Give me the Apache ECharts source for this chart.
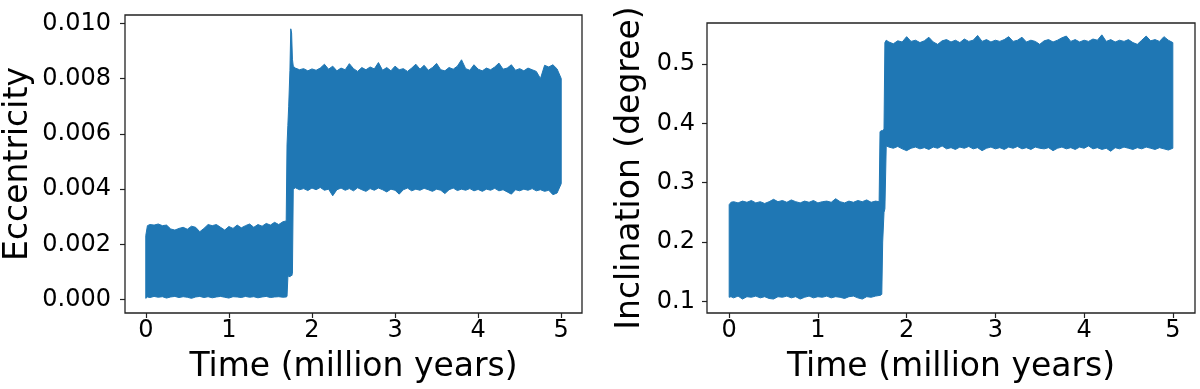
<!DOCTYPE html>
<html>
<head>
<meta charset="utf-8">
<script src="https://cdn.jsdelivr.net/npm/echarts@6/dist/echarts.min.js"></script>
<style>
  html, body { margin: 0; padding: 0; background: #fff; }
  #chart { width: 1200px; height: 389px; }
</style>
</head>
<body>
<div id="chart"></div>
<script>
// envelope of the oscillating curves (lower / upper edge of the blue band)
const timeEcc = [0, 0.02, 0.05, 0.1, 0.15, 0.2, 0.25, 0.3, 0.35, 0.4, 0.45, 0.5, 0.55, 0.6, 0.65, 0.7, 0.75, 0.8, 0.85, 0.9,
  0.95, 1.0, 1.05, 1.1, 1.15, 1.2, 1.25, 1.3, 1.35, 1.4, 1.45, 1.5, 1.55, 1.6, 1.65, 1.69, 1.7, 1.71, 1.72, 1.735,
  1.745, 1.755, 1.765, 1.775, 1.8, 1.85, 1.9, 1.95, 2.0, 2.05, 2.1, 2.15, 2.2, 2.25, 2.3, 2.35, 2.4, 2.45, 2.5, 2.55,
  2.6, 2.65, 2.7, 2.75, 2.8, 2.85, 2.9, 2.95, 3.0, 3.05, 3.1, 3.15, 3.2, 3.25, 3.3, 3.35, 3.4, 3.45, 3.5, 3.55,
  3.6, 3.65, 3.7, 3.75, 3.8, 3.85, 3.9, 3.95, 4.0, 4.05, 4.1, 4.15, 4.2, 4.25, 4.3, 4.35, 4.4, 4.45, 4.5, 4.55,
  4.6, 4.65, 4.7, 4.75, 4.8, 4.85, 4.9, 4.95, 5.0];
const eccHigh = [0.00232, 0.00268, 0.00272, 0.00270, 0.00274, 0.00268, 0.00270, 0.00256, 0.00252, 0.00258, 0.00262, 0.00255, 0.00266, 0.00262, 0.00246, 0.00258, 0.00272, 0.00268, 0.00272, 0.00262,
  0.00252, 0.00265, 0.00258, 0.00270, 0.00260, 0.00268, 0.00274, 0.00262, 0.00272, 0.00266, 0.00276, 0.00270, 0.00280, 0.00272, 0.00282, 0.00285, 0.00560, 0.00630, 0.00700, 0.00830,
  0.00980, 0.00965, 0.00870, 0.00845, 0.00838, 0.00832, 0.00836, 0.00828, 0.00835, 0.00830, 0.00838, 0.00852, 0.00834, 0.00845, 0.00828, 0.00838, 0.00832, 0.00854, 0.00836, 0.00826,
  0.00840, 0.00832, 0.00842, 0.00835, 0.00858, 0.00830, 0.00840, 0.00828, 0.00845, 0.00832, 0.00836, 0.00826, 0.00838, 0.00852, 0.00834, 0.00848, 0.00830, 0.00840, 0.00855, 0.00832,
  0.00828, 0.00840, 0.00834, 0.00845, 0.00868, 0.00836, 0.00830, 0.00850, 0.00834, 0.00828, 0.00838, 0.00832, 0.00842, 0.00856, 0.00834, 0.00838, 0.00850, 0.00830, 0.00836, 0.00828,
  0.00838, 0.00832, 0.00826, 0.00800, 0.00848, 0.00842, 0.00850, 0.00835, 0.00800];
const eccLow = [0.00005, 0.00010, 0.00008, 0.00012, 0.00009, 0.00011, 0.00006, 0.00010, 0.00012, 0.00008, 0.00011, 0.00009, 0.00005, 0.00010, 0.00012, 0.00008, 0.00011, 0.00007, 0.00010, 0.00012,
  0.00009, 0.00006, 0.00011, 0.00010, 0.00008, 0.00012, 0.00009, 0.00011, 0.00007, 0.00010, 0.00012, 0.00008, 0.00010, 0.00011, 0.00009, 0.00010, 0.00012, 0.00080, 0.00088, 0.00082,
  0.00090, 0.00086, 0.00095, 0.00400, 0.00405, 0.00398, 0.00402, 0.00395, 0.00404, 0.00398, 0.00406, 0.00396, 0.00400, 0.00376, 0.00398, 0.00404, 0.00396, 0.00402, 0.00394, 0.00405,
  0.00398, 0.00392, 0.00402, 0.00396, 0.00404, 0.00398, 0.00390, 0.00400, 0.00396, 0.00382, 0.00398, 0.00404, 0.00394, 0.00400, 0.00396, 0.00403, 0.00398, 0.00392, 0.00400, 0.00396,
  0.00384, 0.00398, 0.00404, 0.00395, 0.00400, 0.00396, 0.00402, 0.00394, 0.00399, 0.00392, 0.00400, 0.00396, 0.00403, 0.00394, 0.00398, 0.00390, 0.00382, 0.00398, 0.00394, 0.00400,
  0.00396, 0.00402, 0.00394, 0.00398, 0.00392, 0.00396, 0.00380, 0.00386, 0.00420];

const timeInc = [0, 0.02, 0.05, 0.1, 0.15, 0.2, 0.25, 0.3, 0.35, 0.4, 0.45, 0.5, 0.55, 0.6, 0.65, 0.7, 0.75, 0.8, 0.85, 0.9,
  0.95, 1.0, 1.05, 1.1, 1.15, 1.2, 1.25, 1.3, 1.35, 1.4, 1.45, 1.5, 1.55, 1.6, 1.65, 1.69, 1.7, 1.72, 1.73, 1.745,
  1.755, 1.77, 1.8, 1.85, 1.9, 1.95, 2.0, 2.05, 2.1, 2.15, 2.2, 2.25, 2.3, 2.35, 2.4, 2.45, 2.5, 2.55, 2.6, 2.65,
  2.7, 2.75, 2.8, 2.85, 2.9, 2.95, 3.0, 3.05, 3.1, 3.15, 3.2, 3.25, 3.3, 3.35, 3.4, 3.45, 3.5, 3.55, 3.6, 3.65,
  3.7, 3.75, 3.8, 3.85, 3.9, 3.95, 4.0, 4.05, 4.1, 4.15, 4.2, 4.25, 4.3, 4.35, 4.4, 4.45, 4.5, 4.55, 4.6, 4.65,
  4.7, 4.75, 4.8, 4.85, 4.9, 4.95, 5.0];
const incHigh = [0.263, 0.267, 0.268, 0.266, 0.269, 0.267, 0.270, 0.266, 0.268, 0.265, 0.268, 0.272, 0.268, 0.270, 0.267, 0.271, 0.268, 0.266, 0.269, 0.267,
  0.270, 0.266, 0.268, 0.269, 0.267, 0.273, 0.268, 0.266, 0.269, 0.267, 0.270, 0.268, 0.271, 0.267, 0.269, 0.268, 0.386, 0.388, 0.388, 0.390,
  0.536, 0.540, 0.537, 0.534, 0.539, 0.537, 0.546, 0.538, 0.540, 0.536, 0.539, 0.545, 0.537, 0.533, 0.539, 0.541, 0.537, 0.540, 0.536, 0.542,
  0.538, 0.540, 0.548, 0.538, 0.541, 0.537, 0.540, 0.538, 0.541, 0.546, 0.538, 0.540, 0.545, 0.537, 0.540, 0.538, 0.533, 0.539, 0.541, 0.537,
  0.540, 0.544, 0.547, 0.538, 0.541, 0.537, 0.540, 0.538, 0.542, 0.540, 0.549, 0.538, 0.541, 0.537, 0.540, 0.538, 0.541, 0.536, 0.533, 0.540,
  0.547, 0.539, 0.541, 0.538, 0.546, 0.540, 0.536];
const incLow = [0.107, 0.108, 0.106, 0.109, 0.104, 0.108, 0.107, 0.109, 0.106, 0.108, 0.105, 0.104, 0.108, 0.107, 0.109, 0.106, 0.108, 0.104, 0.107, 0.109,
  0.106, 0.108, 0.107, 0.109, 0.106, 0.108, 0.107, 0.105, 0.108, 0.109, 0.106, 0.104, 0.108, 0.107, 0.109, 0.110, 0.110, 0.112, 0.200, 0.250,
  0.256, 0.362, 0.360, 0.358, 0.361, 0.357, 0.354, 0.358, 0.360, 0.357, 0.359, 0.356, 0.360, 0.358, 0.362, 0.357, 0.359, 0.356, 0.360, 0.358,
  0.361, 0.357, 0.359, 0.354, 0.358, 0.360, 0.357, 0.359, 0.356, 0.360, 0.358, 0.361, 0.357, 0.359, 0.356, 0.360, 0.358, 0.357, 0.359, 0.354,
  0.358, 0.360, 0.357, 0.359, 0.356, 0.360, 0.358, 0.362, 0.357, 0.359, 0.356, 0.358, 0.353, 0.359, 0.357, 0.360, 0.358, 0.356, 0.359, 0.357,
  0.360, 0.358, 0.356, 0.359, 0.357, 0.355, 0.358];

const timeTicks = [0, 1, 2, 3, 4, 5];
const eccTicks = [0, 0.002, 0.004, 0.006, 0.008, 0.010];
const incTicks = [0.1, 0.2, 0.3, 0.4, 0.5];

const BLUE = "#1f77b4";
const FONT = "DejaVu Sans";

function xAxis(gridIndex) {
  return {
    gridIndex,
    type: "value",
    min: -0.25,
    max: 5.25,
    name: "Time (million years)",
    nameLocation: "middle",
    nameGap: 38,
    nameTextStyle: { fontSize: 33, fontFamily: FONT, color: "#000" },
    axisLine: { show: false, onZero: false },
    splitLine: { show: false },
    axisTick: { show: true, length: 5, customValues: timeTicks, lineStyle: { color: "#222", width: 1.2 } },
    axisLabel: { customValues: timeTicks, fontSize: 24, fontFamily: FONT, color: "#000", margin: 6 },
  };
}

function yAxis(gridIndex, name, min, max, ticks, digits, nameGap, margin) {
  return {
    gridIndex,
    type: "value",
    min,
    max,
    name,
    nameLocation: "middle",
    nameGap,
    nameTextStyle: { fontSize: 33, fontFamily: FONT, color: "#000" },
    axisLine: { show: false, onZero: false },
    splitLine: { show: false },
    axisTick: { show: true, length: 5, customValues: ticks, lineStyle: { color: "#222", width: 1.2 } },
    axisLabel: {
      customValues: ticks,
      fontSize: 24,
      fontFamily: FONT,
      color: "#000",
      margin,
      formatter: (v) => Number(v).toFixed(digits),
    },
  };
}

// the filled band: one polygon, upper edge left to right then lower edge back
function band(times, low, high, axisIndex) {
  return {
    type: "custom",
    xAxisIndex: axisIndex,
    yAxisIndex: axisIndex,
    silent: true,
    clip: true,
    data: times.map((t, i) => [t, low[i], high[i]]),
    encode: { x: 0, y: [1, 2] },
    renderItem: (params, api) => {
      if (params.dataIndex !== 0) return null;
      const top = times.map((t, i) => api.coord([t, high[i]]));
      const bottom = times.map((t, i) => api.coord([t, low[i]])).reverse();
      return {
        type: "polygon",
        shape: { points: top.concat(bottom) },
        style: { fill: BLUE, stroke: BLUE, lineWidth: 1 },
      };
    },
  };
}

const chart = echarts.init(document.getElementById("chart"), null, { renderer: "canvas" });
chart.setOption({
  animation: false,
  backgroundColor: "#fff",
  grid: [
    { left: 125, top: 15, width: 457, height: 298, show: true, borderColor: "#222", borderWidth: 1.3 },
    { left: 707, top: 23, width: 488, height: 290, show: true, borderColor: "#222", borderWidth: 1.3 },
  ],
  xAxis: [xAxis(0), xAxis(1)],
  yAxis: [
    yAxis(0, "Eccentricity", -0.00048, 0.0103, eccTicks, 3, 90, 14),
    yAxis(1, "Inclination (degree)", 0.0805, 0.569, incTicks, 1, 60, 12),
  ],
  series: [
    band(timeEcc, eccLow, eccHigh, 0),
    band(timeInc, incLow, incHigh, 1),
  ],
});
</script>
</body>
</html>
